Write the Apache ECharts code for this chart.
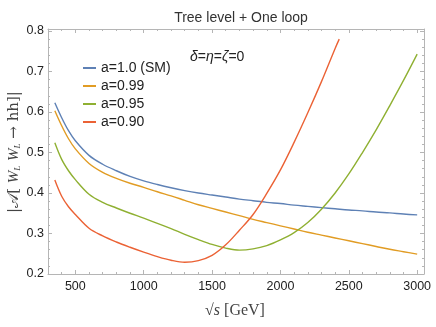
<!DOCTYPE html>
<html>
<head>
<meta charset="utf-8">
<script src="https://cdn.jsdelivr.net/npm/echarts@6/dist/echarts.min.js"></script>
<style>
  html, body { margin: 0; padding: 0; background: #fff; }
  #chart { width: 436px; height: 327px; }
</style>
</head>
<body>
<div id="chart"></div>
<script>
// sqrt(s) in GeV, shared by the first three curves
const sqrtS = [350, 400, 450, 500, 600, 700, 800, 900, 1000, 1100, 1200, 1300, 1400, 1500, 1600, 1700, 1800, 1900, 2000, 2100, 2200, 2300, 2400, 2500, 2600, 2700, 2800, 2900, 3000]
const ampSM = [0.623, 0.586, 0.554, 0.529, 0.493, 0.471, 0.455, 0.441, 0.430, 0.421, 0.413, 0.406, 0.400, 0.395, 0.390, 0.385, 0.381, 0.377, 0.374, 0.370, 0.367, 0.364, 0.361, 0.358, 0.356, 0.353, 0.351, 0.348, 0.346]
const amp099 = [0.603, 0.566, 0.534, 0.509, 0.473, 0.451, 0.436, 0.424, 0.414, 0.403, 0.393, 0.382, 0.371, 0.362, 0.353, 0.344, 0.335, 0.327, 0.319, 0.311, 0.303, 0.296, 0.289, 0.282, 0.275, 0.268, 0.261, 0.255, 0.249]
const amp095 = [0.524, 0.483, 0.455, 0.433, 0.397, 0.377, 0.363, 0.350, 0.338, 0.325, 0.312, 0.298, 0.285, 0.273, 0.264, 0.259, 0.262, 0.270, 0.284, 0.302, 0.327, 0.360, 0.400, 0.447, 0.500, 0.556, 0.616, 0.678, 0.743]
// a = 0.90 leaves the frame early
const sqrtS090 = [350, 400, 450, 500, 600, 700, 800, 900, 1000, 1100, 1200, 1300, 1400, 1500, 1600, 1700, 1800, 1900, 2000, 2100, 2200, 2300, 2400, 2430]
const amp090 = [0.432, 0.392, 0.366, 0.347, 0.313, 0.294, 0.279, 0.266, 0.254, 0.243, 0.234, 0.229, 0.233, 0.246, 0.272, 0.308, 0.347, 0.399, 0.457, 0.525, 0.598, 0.675, 0.757, 0.780]

const seriesNames = ['a=1.0 (SM)', 'a=0.99', 'a=0.95', 'a=0.90']
const xMajor = [500, 1000, 1500, 2000, 2500, 3000]
const yMajor = [0.2, 0.3, 0.4, 0.5, 0.6, 0.7, 0.8]

const colors = ['#5E81B5', '#E19C24', '#8FB032', '#EB6235']
const frameColor = '#b5b5b5'

const xMinor = []
for (let v = 300; v <= 3000; v += 100) if (v % 500 !== 0) xMinor.push(v)
const yMinor = []
for (let k = 10; k <= 40; k++) if (k % 5 !== 0) yMinor.push(+(k * 0.02).toFixed(2))

const pairs = (xs, ys) => xs.map((x, i) => [x, ys[i]])

function xAxisCfg (pos, major, labels) {
    return {
        type: 'value', position: pos, min: 300, max: 3050,
        axisLine: { show: major, lineStyle: { color: frameColor, width: 1 } },
        axisTick: { show: true, inside: true, length: major ? 4 : 2,
            customValues: major ? xMajor : xMinor,
            lineStyle: { color: frameColor } },
        axisLabel: { show: labels, customValues: xMajor, color: '#222',
            fontFamily: 'Liberation Sans', fontSize: 12.5, margin: 6,
            formatter: v => String(v) },
        splitLine: { show: false }
    }
}
function yAxisCfg (pos, major, labels) {
    return {
        type: 'value', position: pos, min: 0.2, max: 0.805,
        axisLine: { show: major, lineStyle: { color: frameColor, width: 1 } },
        axisTick: { show: true, inside: true, length: major ? 4 : 2,
            customValues: major ? yMajor : yMinor,
            lineStyle: { color: frameColor } },
        axisLabel: { show: labels, customValues: yMajor, color: '#222',
            fontFamily: 'Liberation Sans', fontSize: 12.5, margin: 4,
            formatter: v => v.toFixed(1) },
        splitLine: { show: false }
    }
}

const chart = echarts.init(document.getElementById('chart'))
const option = {
    animation: false,
    color: colors,
    grid: { left: 48, right: 12, top: 29, bottom: 53 },
    title: {
        text: 'Tree level + One loop',
        left: 236, top: 6, textAlign: 'center',
        textStyle: { fontFamily: 'Liberation Sans', fontSize: 14, fontWeight: 'normal', color: '#333' }
    },
    legend: {
        orient: 'vertical', left: 78, top: 56,
        itemWidth: 13, itemHeight: 2, itemGap: 4, icon: 'rect',
        data: seriesNames,
        textStyle: { fontFamily: 'Liberation Sans', fontSize: 14, color: '#222', lineHeight: 14 }
    },
    xAxis: [
        xAxisCfg('bottom', true, true),
        xAxisCfg('bottom', false, false),
        xAxisCfg('top', true, false),
        xAxisCfg('top', false, false)
    ],
    yAxis: [
        yAxisCfg('left', true, true),
        yAxisCfg('left', false, false),
        yAxisCfg('right', true, false),
        yAxisCfg('right', false, false)
    ],
    graphic: [
        {
            type: 'text', left: 190, top: 50,
            style: {
                text: '{i|δ}={i|η}={i|ζ}=0',
                font: '14px "Liberation Sans"', fill: '#222',
                rich: { i: { fontStyle: 'italic', fontFamily: 'Liberation Sans', fontSize: 14 } }
            }
        },
        {
            type: 'text', x: 14, y: 152, rotation: Math.PI / 2,
            style: {
                text: '|𝒜[ {i|W}{s|L} {i|W}{s|L} → hh]|',
                font: '15px "DejaVu Serif"', fill: '#444',
                align: 'center', verticalAlign: 'middle',
                rich: {
                    i: { fontStyle: 'italic', fontFamily: 'Liberation Serif', fontSize: 15 },
                    s: { fontStyle: 'italic', fontFamily: 'Liberation Serif', fontSize: 9, padding: [8, 0, 0, 0] }
                }
            }
        },
        {
            type: 'text', x: 235, y: 311,
            style: {
                text: '√{i|s} [GeV]',
                font: '16px "Liberation Serif"', fill: '#444',
                align: 'center', verticalAlign: 'middle',
                rich: { i: { fontStyle: 'italic', fontFamily: 'Liberation Serif', fontSize: 16 } }
            }
        }
    ],
    series: [
        { name: seriesNames[0], data: pairs(sqrtS, ampSM) },
        { name: seriesNames[1], data: pairs(sqrtS, amp099) },
        { name: seriesNames[2], data: pairs(sqrtS, amp095) },
        { name: seriesNames[3], data: pairs(sqrtS090, amp090) }
    ].map(s => Object.assign(s, {
        type: 'line', smooth: 0.35, showSymbol: false,
        lineStyle: { width: 1.4 }, xAxisIndex: 0, yAxisIndex: 0
    }))
}
chart.setOption(option)
window.addEventListener('resize', () => chart.resize())
</script>
</body>
</html>
